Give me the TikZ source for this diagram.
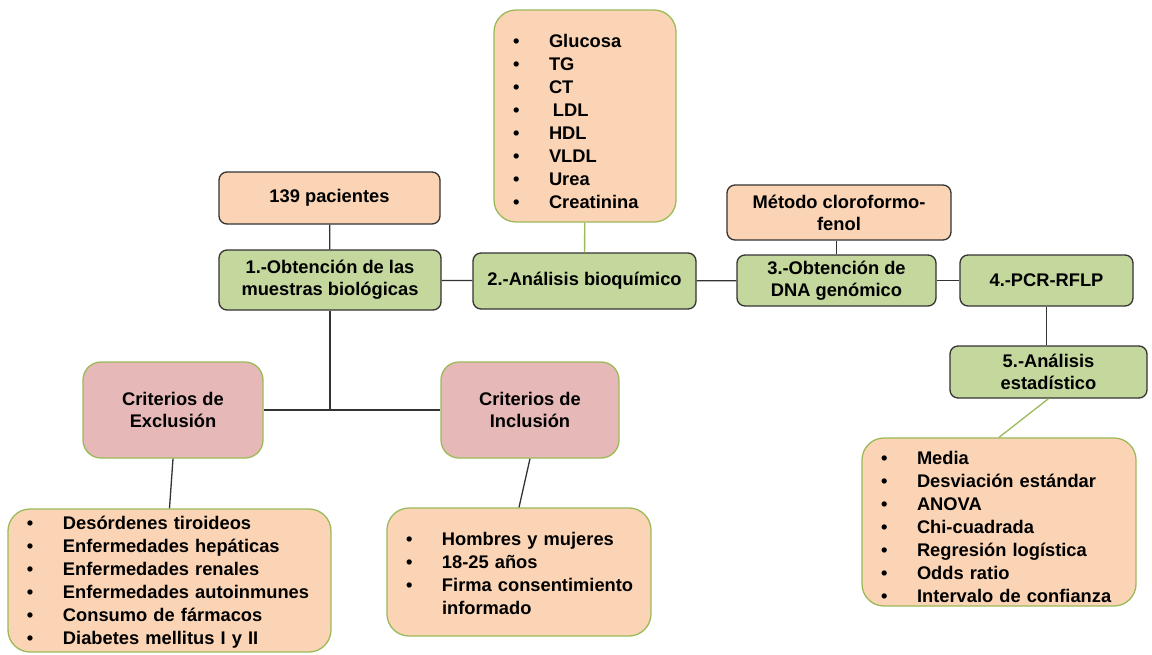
\documentclass[tikz,border=0pt]{standalone}
\usepackage{fontspec}
\setmainfont{Liberation Sans}
\definecolor{peach}{HTML}{FAD4B5}
\definecolor{procgreen}{HTML}{C4D79D}
\definecolor{critpink}{HTML}{E6B8B7}
\definecolor{lgreen}{HTML}{9BBB59}
\definecolor{darkline}{HTML}{333333}
\newcommand\itm[1]{\makebox[36pt][l]{•}\mbox{#1}}
\newcommand\lst[2]{\raisebox{-#1}[\height][\depth]{\begin{tabular}{@{}l@{}}#2\end{tabular}}}
\tikzset{
  base/.style={font=\bfseries\fontsize{18.3}{22}\selectfont, align=center, inner sep=0pt, line width=1.3pt},
  proc/.style={base, draw=darkline, fill=procgreen, rounded corners=8pt},
  info/.style={base, draw=darkline, fill=peach, rounded corners=8pt},
  crit/.style={base, draw=lgreen, fill=critpink, rounded corners=18pt},
  listbox/.style={base, font=\bfseries\fontsize{18.3}{23}\selectfont, align=left, draw=lgreen, fill=peach, rounded corners=22pt, inner xsep=19pt, inner ysep=0pt},
  link/.style={line width=1.3pt, draw=darkline},
  glink/.style={line width=1.3pt, draw=lgreen},
}
\begin{document}
\begin{tikzpicture}[x=1pt,y=-1pt]
\useasboundingbox (0,0) rectangle (1152,654);
\fill[white] (0,0) rectangle (1152,654);

% process / info boxes
\node[info, minimum width=221pt, minimum height=52pt] (pac) at (329.5,198) {139 pacientes};
\node[proc, minimum width=222pt, minimum height=60pt] (o1) at (330,280) {1.-Obtención de las\\muestras biológicas};
\node[proc, minimum width=223pt, minimum height=56pt] (an2) at (584.5,281) {2.-Análisis bioquímico};
\node[info, minimum width=224pt, minimum height=55pt] (met) at (839,212.5) {Método cloroformo-\\fenol};
\node[proc, minimum width=199pt, minimum height=51pt] (dna) at (836.5,280.5) {3.-Obtención de\\DNA genómico};
\node[proc, minimum width=173pt, minimum height=51pt] (pcr) at (1046.5,280.5) {4.-PCR-RFLP};
\node[proc, minimum width=197pt, minimum height=52pt] (est) at (1048.5,372) {5.-Análisis\\estadístico};

% criteria boxes
\node[crit, minimum width=180pt, minimum height=96pt] (excl) at (173,410) {Criterios de\\Exclusión};
\node[crit, minimum width=178pt, minimum height=96pt] (incl) at (530,410) {Criterios de\\Inclusión};

% list boxes
\node[listbox, text width=144pt, minimum height=212pt] (bio) at (585,116)
  {\lst{7pt}{\itm{Glucosa}\\\itm{TG}\\\itm{CT}\\\itm{\hspace{4pt}LDL}\\\itm{HDL}\\\itm{VLDL}\\\itm{Urea}\\\itm{Creatinina}}};
\node[listbox, text width=285pt, minimum height=143pt] (exlist) at (169.5,580.5)
  {\lst{2pt}{\itm{Desórdenes tiroideos}\\\itm{Enfermedades hepáticas}\\\itm{Enfermedades renales}\\\itm{Enfermedades autoinmunes}\\\itm{Consumo de fármacos}\\\itm{Diabetes mellitus I y II}}};
\node[listbox, text width=226pt, minimum height=128pt] (inlist) at (519,572)
  {\lst{3pt}{\itm{Hombres y mujeres}\\\itm{18-25 años}\\\itm{Firma consentimiento}\\\hspace*{36pt}\mbox{informado}}};
\node[listbox, text width=236pt, minimum height=168pt] (stlist) at (999,522)
  {\lst{7pt}{\itm{Media}\\\itm{Desviación estándar}\\\itm{ANOVA}\\\itm{Chi-cuadrada}\\\itm{Regresión logística}\\\itm{Odds ratio}\\\itm{Intervalo de confianza}}};

% connectors
\coordinate (j) at (o1.south |- excl.east);
\draw[link] (pac) -- (o1);
\draw[link] (o1) -- (an2);
\draw[link] (an2) -- (dna);
\draw[link] (dna) -- (pcr);
\draw[link] (pcr.south) -- (pcr.south |- est.north);
\draw[glink] (bio) -- (an2);
\draw[link] (dna.north |- met.south) -- (dna.north);
\draw[link] (o1.south) -- (j);
\draw[link] (excl.east) -- (incl.west);
\draw[link] (excl.south) -- (exlist.north);
\draw[link] (incl.south) -- (inlist.north);
\draw[glink] (est.south) -- (stlist.north);
\end{tikzpicture}
\end{document}
